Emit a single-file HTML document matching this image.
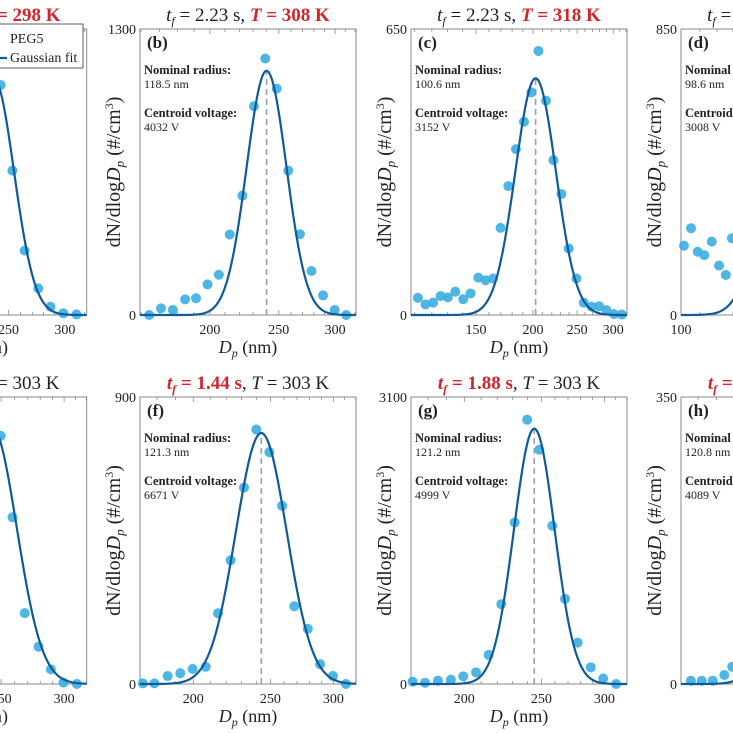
<!DOCTYPE html>
<html><head><meta charset="utf-8">
<style>
html,body{margin:0;padding:0;background:#fff;}
svg{display:block;font-family:"Liberation Serif",serif;}
</style></head>
<body>
<svg id="fig" width="733" height="733" viewBox="0 0 733 733" xmlns="http://www.w3.org/2000/svg"></svg>
<script>
// ---- data ----
const dpA = [243.7,253.1,263.4,275.3,286.4,298.5,311.6];
const nA  = [804,505,225,93,29,6,2];
const fitA = [238,830,0.029];

const dpB = [164.3,170.7,177.4,184.6,191.2,198.5,205.9,213.3,222.2,230.7,239.3,248.3,257.8,267.7,277.9,288.5,299.6,311];
const nB  = [0,30,23,71,76,139,183,366,543,949,1166,1029,656,367,200,89,23,0];
const fitB = [240.3,1110,0.028];

const dpC = [111.8,116.2,120.8,125.4,130.1,135.1,140.6,145.9,151.7,157.4,163.4,169.8,176.6,183.5,191.1,198.4,205.6,213.6,221.8,230.9,239.6,249.1,258.5,268.8,279.3,290,301.3,313.3];
const nC  = [39,24,28,43,40,53,36,49,85,79,83,198,293,377,439,506,600,487,352,275,151,83,28,19,20,11,2,1];
const fitC = [202.7,538,0.0445];

const dpD = [101.5,105.2,108.8,112.5,116.8,121.2,125.4,129.3];
const nD  = [206,258,188,178,218,147,119,228];
const fitD = [169,600,0.05];

const dpE = [249.7,258.4,267.7,278.6,288.7,299.5,311.3];
const nE  = [865,581,247,130,51,5,0];
const fitE = [243,900,0.032];

const dpF = [172.8,178.7,185.7,192.6,199.6,207.3,214.8,222.8,231.6,240,249.2,258.6,267.9,278.6,288.7,299.6,311.1];
const nF  = [2,2,25,34,47,54,222,388,616,798,727,559,244,173,62,25,0];
const fitF = [243.5,787,0.032];

const dpG = [172.2,178.5,185.3,192.4,199.4,206.9,214.6,222.6,231.4,239.9,248.5,258,267.7,277.7,288.4,299,310.4];
const nG  = [25,14,36,47,83,126,314,862,1745,2855,2530,1709,919,447,180,61,0];
const fitG = [244.9,2758,0.0255];

const dpH = [176.4,182.0,187.9,194.3,198.8];
const nH  = [4,4,4,11,21];
const fitH = [245,300,0.03];

const ymaxLabels = ["1000","1300","650","850","1000","900","3100","350"];
const xTicksTop = [100,150,200,250,300];

// ---- drawing ----
const NS = "http://www.w3.org/2000/svg";
const svg = document.getElementById('fig');
function mk(tag, attrs, parent){ const e=document.createElementNS(NS,tag); for(const k in attrs) e.setAttribute(k,attrs[k]); (parent||svg).appendChild(e); return e; }

const BLUE_PT = "#3aaee2", BLUE_LN = "#0f5a98", RED = "#d0262b";

function panel(cfg){
  const g = mk('g',{});
  
  
  const L=cfg.left, R=cfg.right, T=cfg.top, B=cfg.bottom;
  const lx0=Math.log10(cfg.xmin), lx1=Math.log10(cfg.xmax);
  const xs = d => L + (Math.log10(d)-lx0)/(lx1-lx0)*(R-L);
  const ys = v => B - v/cfg.ymax*(B-T);
  const box = mk('rect',{x:L,y:T,width:R-L,height:B-T,fill:'none',stroke:'#8a8a8a','stroke-width':1},g);
  
  
  for(let d=100; d<=cfg.xmax; d+=10){
    if(d<cfg.xmin) continue;
    const X=xs(d), len=(d%50===0)?5:3;
    mk('line',{x1:X,y1:B,x2:X,y2:B-len,stroke:'#8a8a8a','stroke-width':0.8},g);
    mk('line',{x1:X,y1:T,x2:X,y2:T+len,stroke:'#8a8a8a','stroke-width':0.8},g);
  }
  xTicksTop.forEach(d=>{
    if(d<cfg.xmin-1||d>cfg.xmax) return;
    if(xs(d)>725) return;
    const t=mk('text',{x:xs(d),y:B+19,'font-size':14,'text-anchor':'middle',fill:'#222'},g);
    t.textContent=d;
    
    
  });
  const yt=mk('text',{x:L-4,y:T+5,'font-size':14,'text-anchor':'end',fill:'#222'},g);
  yt.textContent=cfg.ymaxLabel;
  
  
  const y0=mk('text',{x:L-4,y:B+5,'font-size':14,'text-anchor':'end',fill:'#222'},g);
  y0.textContent='0';
  
  
  const yl=mk('text',{x:0,y:0,'font-size':20,'text-anchor':'middle',fill:'#222',transform:`translate(${L-20},${(T+B)/2}) rotate(-90)`},g);
  yl.innerHTML='dN/dlog<tspan font-style="italic">D</tspan><tspan font-size="13" font-style="italic" dy="4">p</tspan><tspan dy="-4"> (#/cm</tspan><tspan font-size="12" dy="-7">3</tspan><tspan dy="7">)</tspan>';
  
  
  const xl=mk('text',{x:(L+R)/2,y:B+38,'font-size':18,'text-anchor':'middle',fill:'#222'},g);
  xl.innerHTML='<tspan font-style="italic">D</tspan><tspan font-size="12" font-style="italic" dy="4">p</tspan><tspan dy="-4"> (nm)</tspan>';
  
  
  const ti=mk('text',{x:(L+R)/2,y:T-8,'font-size':19,'text-anchor':'middle',fill:'#222'},g);
  ti.innerHTML=cfg.title;
  
  
  const dl=mk('line',{x1:xs(cfg.fit[0]),y1:B,x2:xs(cfg.fit[0]),y2:ys(cfg.fit[1]),stroke:'#a0a0a0','stroke-width':1.6,'stroke-dasharray':'6,4'},g);
  
  
  cfg.dp.forEach((d,i)=>{
    const c=mk('circle',{cx:xs(d),cy:ys(cfg.n[i]),r:5,fill:BLUE_PT,'fill-opacity':0.9},g);
    
    
  });
  let p='';
  const lc=Math.log10(cfg.fit[0]);
  for(let i=0;i<=240;i++){
    const ld=lx0+(lx1-lx0)*i/240;
    const v=cfg.fit[1]*Math.exp(-0.5*Math.pow((ld-lc)/cfg.fit[2],2));
    const X=L+(ld-lx0)/(lx1-lx0)*(R-L);
    p+=(i?'L':'M')+X.toFixed(2)+','+ys(v).toFixed(2);
  }
  const fl=mk('path',{d:p,fill:'none',stroke:BLUE_LN,'stroke-width':2.2},g);
  
  
  const lt=mk('text',{x:L+7,y:T+19,'font-size':17,'font-weight':'bold',fill:'#222'},g);
  lt.textContent=cfg.letter;
  
  
  const ann=[['Nominal radius:',T+45,true],[cfg.radius,T+59,false],['Centroid voltage:',T+88,true],[cfg.volt,T+102,false]];
  ann.forEach(a=>{
    const t=mk('text',{x:L+4,y:a[1],'font-size':a[2]?12.5:12,'font-weight':a[2]?'bold':'normal',fill:'#222'},g);
    t.textContent=a[0];
    
    
  });
}

function tf(red){
  return red
  ? `<tspan fill="${RED}" font-weight="bold"><tspan font-style="italic">t</tspan><tspan font-size="12" font-style="italic" dy="4">f</tspan><tspan dy="-4"> = `
  : `<tspan font-style="italic">t</tspan><tspan font-size="12" font-style="italic" dy="4">f</tspan><tspan dy="-4"> = `;
}
function titleT(T){ return `${tf(false)}2.23 s, </tspan><tspan fill="${RED}" font-weight="bold"><tspan font-style="italic">T</tspan> = ${T} K</tspan>`; }
function titleF(t){ return `${tf(true)}${t} s</tspan></tspan>, <tspan font-style="italic">T</tspan> = 303 K`; }

const rowTop={top:29,bottom:315}, rowBot={top:397,bottom:684};
const panels=[
 {id:'a',left:-129.3,right:86.7,...rowTop,xmin:160,xmax:322,ymax:1000,ymaxLabel:ymaxLabels[0],dp:dpA,n:nA,fit:fitA,title:titleT(298),letter:'(a)',radius:'',volt:''},
 {id:'b',left:140,right:356,...rowTop,xmin:159.5,xmax:321,ymax:1300,ymaxLabel:ymaxLabels[1],dp:dpB,n:nB,fit:fitB,title:titleT(308),letter:'(b)',radius:'118.5 nm',volt:'4032 V'},
 {id:'c',left:411,right:627,...rowTop,xmin:108,xmax:321.6,ymax:650,ymaxLabel:ymaxLabels[2],dp:dpC,n:nC,fit:fitC,title:titleT(318),letter:'(c)',radius:'100.6 nm',volt:'3152 V'},
 {id:'d',left:681,right:897,...rowTop,xmin:100,xmax:297.7,ymax:850,ymaxLabel:ymaxLabels[3],dp:dpD,n:nD,fit:fitD,title:titleT(328),letter:'(d)',radius:'98.6 nm',volt:'3008 V'},
 {id:'e',left:-129.3,right:86.7,...rowBot,xmin:171.4,xmax:320.3,ymax:1000,ymaxLabel:ymaxLabels[4],dp:dpE,n:nE,fit:fitE,title:`${tf(false)}2.23 s, </tspan><tspan font-style="italic">T</tspan> = 303 K`,letter:'(e)',radius:'',volt:''},
 {id:'f',left:140,right:356,...rowBot,xmin:171.4,xmax:320.3,ymax:900,ymaxLabel:ymaxLabels[5],dp:dpF,n:nF,fit:fitF,title:titleF('1.44'),letter:'(f)',radius:'121.3 nm',volt:'6671 V'},
 {id:'g',left:411,right:627,...rowBot,xmin:171.4,xmax:320.3,ymax:3100,ymaxLabel:ymaxLabels[6],dp:dpG,n:nG,fit:fitG,title:titleF('1.88'),letter:'(g)',radius:'121.2 nm',volt:'4999 V'},
 {id:'h',left:681,right:897,...rowBot,xmin:171.4,xmax:320.3,ymax:350,ymaxLabel:ymaxLabels[7],dp:dpH,n:nH,fit:fitH,title:titleF('2.50'),letter:'(h)',radius:'120.8 nm',volt:'4089 V'}
];
panels.forEach(panel);

const lg=mk('g',{});


mk('rect',{x:-40,y:24,width:123,height:44,fill:'#fff',stroke:'#333','stroke-width':0.8},lg);
mk('circle',{cx:-8,cy:38,r:5,fill:BLUE_PT},lg);
mk('line',{x1:-20,y1:58,x2:7,y2:58,stroke:BLUE_LN,'stroke-width':2.2},lg);
const l1=mk('text',{x:10,y:43,'font-size':14,fill:'#222'},lg); l1.textContent='PEG5';


const l2=mk('text',{x:10,y:62,'font-size':14,fill:'#222'},lg); l2.textContent='Gaussian fit';


</script>
</body></html>
